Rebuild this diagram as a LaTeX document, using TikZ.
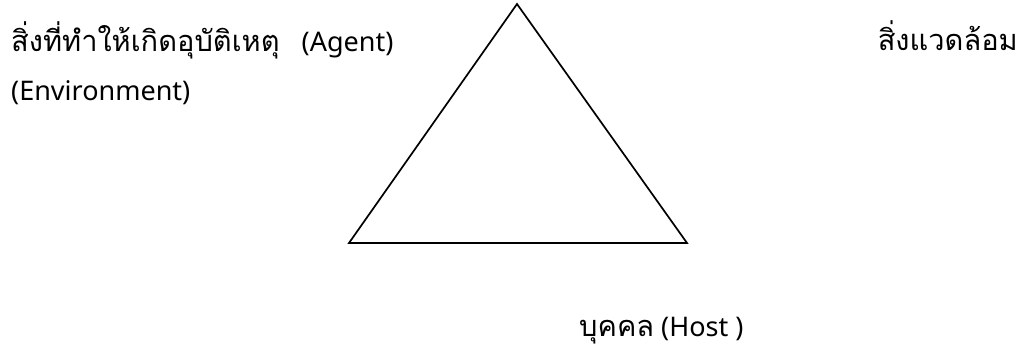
\documentclass[tikz,border=0pt]{standalone}
\usepackage{fontspec}
\setmainfont{Noto Sans}
\newfontfamily\thaifont[Script=Thai]{Loma}
\newcommand{\thaisz}{\thaifont\fontsize{29}{34}\selectfont}
\begin{document}
\begin{tikzpicture}[x=1pt,y=-1pt,
  lbl/.style={inner sep=0pt,font=\fontsize{27}{32}\selectfont},
  tri/.style={draw=black,line width=1.7pt,line join=miter}]
\useasboundingbox (0,0) rectangle (1031,352);
\coordinate (top) at (517,4);
\coordinate (bl) at (349,243);
\coordinate (br) at (687,243);
\draw[tri] (top) -- (br) -- (bl) -- cycle;
\node[lbl,anchor=base west] (agent) at (11,52) {{\thaisz สิ่งที่ทำให้เกิดอุบัติเหตุ}\hspace{22pt}(Agent)};
\node[lbl,anchor=base west] (env) at (11,101) {(Environment)};
\node[lbl,anchor=base east] (envth) at (1018,51) {\thaisz สิ่งแวดล้อม};
\node[lbl,anchor=base west] (host) at (579,337) {{\thaisz บุคคล} (Host )};
\end{tikzpicture}
\end{document}
